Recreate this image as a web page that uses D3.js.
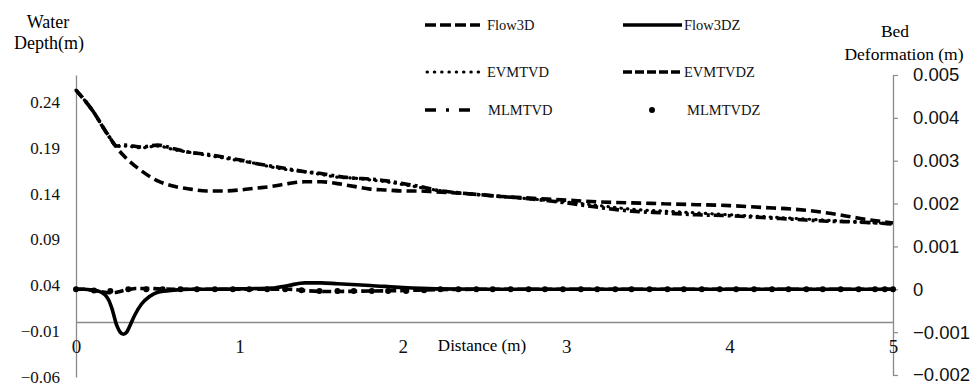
<!DOCTYPE html>
<html><head><meta charset="utf-8">
<script src="https://cdn.jsdelivr.net/npm/d3@7/dist/d3.min.js"></script>
<style>body{margin:0;background:#fff}svg{display:block}</style>
</head><body><svg id="c" width="971" height="388"></svg>
<script>
// ---------- DATA ----------
const depthDistance = [0,0.1,0.2,0.25,0.3,0.4,0.5,0.6,0.7,0.8,0.9,1.0,1.1,1.2,1.3,1.4,1.5,1.6,1.7,1.8,1.9,2.0,2.1,2.2,2.4,2.6,2.8,3.0,3.2,3.4,3.6,3.8,4.0,4.2,4.4,4.6,4.8,5.0];
const flow3D  = [0.253,0.231,0.203,0.190,0.180,0.165,0.154,0.148,0.145,0.143,0.143,0.144,0.146,0.148,0.151,0.153,0.153,0.151,0.148,0.145,0.144,0.143,0.143,0.142,0.140,0.137,0.135,0.133,0.131,0.130,0.129,0.128,0.127,0.125,0.123,0.119,0.113,0.108];
const evmtvd  = [0.253,0.231,0.203,0.192,0.192,0.190,0.192,0.188,0.185,0.182,0.179,0.176,0.173,0.169,0.166,0.164,0.161,0.158,0.157,0.155,0.153,0.150,0.147,0.144,0.140,0.137,0.134,0.131,0.127,0.123,0.121,0.119,0.117,0.115,0.113,0.111,0.109,0.107];
const mlmtvd  = [0.253,0.231,0.203,0.192,0.193,0.191,0.193,0.189,0.185,0.183,0.180,0.177,0.173,0.170,0.167,0.164,0.162,0.159,0.157,0.156,0.154,0.151,0.148,0.144,0.140,0.137,0.134,0.130,0.125,0.121,0.119,0.117,0.116,0.114,0.112,0.110,0.109,0.107];

const bedDistance = [0,0.05,0.1,0.15,0.2,0.22,0.25,0.27,0.29,0.31,0.33,0.36,0.4,0.45,0.5,0.6,0.7,0.8,1.0,1.2,1.3,1.4,1.5,1.6,1.8,2.0,2.2,2.5,3.0,3.5,4.0,4.5,5.0];
const flow3DZ  = [0,0,-0.00002,-0.00006,-0.00025,-0.00045,-0.00085,-0.001,-0.00105,-0.001,-0.00085,-0.0006,-0.00035,-0.00017,-0.00007,-0.00002,0,0,0.00001,0.00003,0.00009,0.00015,0.00015,0.00013,0.00009,0.00004,0.00001,0,0,0,0,0,0];
const evmtvdZ  = [0,0,-0.00002,-0.00005,-0.00008,-0.00008,-0.00007,-0.00005,-0.00003,-0.00001,0,0.00002,0.00002,0.00002,0.00001,0,0,0,0,0,0,-0.00003,-0.00005,-0.00005,-0.00004,-0.00003,-0.00001,0,0,0,0,0,0];

const mlmDistance = [0.00,0.11,0.21,0.32,0.43,0.53,0.64,0.74,0.85,0.96,1.06,1.17,1.28,1.38,1.49,1.60,1.70,1.81,1.91,2.02,2.13,2.23,2.34,2.45,2.55,2.66,2.77,2.87,2.98,3.09,3.19,3.30,3.40,3.51,3.62,3.72,3.83,3.94,4.04,4.15,4.26,4.36,4.47,4.57,4.68,4.79,4.89,4.95,5.00];
const mlmtvdZ = [0,-0.00003,-0.00004,0,0,0,0,0,0,0,0,0,0,-0.00002,-0.00004,-0.00004,-0.00004,-0.00004,-0.00004,-0.00004,-0.00002,0,0,0,0,0,0,0,0,0,0,0,0,0,0,0,0,0,0,0,0,0,0,0,0,0,0,0,0];

const xTicks = [0,1,2,3,4,5];
const leftTicks = [0.24,0.19,0.14,0.09,0.04,-0.01,-0.06];
const rightTicks = [0.005,0.004,0.003,0.002,0.001,0,-0.001,-0.002];
const legendNames = ["Flow3D","Flow3DZ","EVMTVD","EVMTVDZ","MLMTVD","MLMTVDZ"];

// ---------- CHART ----------
const svg = d3.select("#c");
const x = d3.scaleLinear().domain([0,5]).range([76,893]);
const yL = d3.scaleLinear().domain([-0.06,0.2695]).range([377,75]);
const yR = d3.scaleLinear().domain([-0.002,0.005]).range([375,75]);
const serif = "'Liberation Serif','Times New Roman',serif";
const sans = "'Liberation Sans',Arial,sans-serif";
const axisCol = "#8a8a8a";

// left axis (line only, labels)
const gL = svg.append("g").attr("transform","translate(76,0)")
  .call(d3.axisLeft(yL).tickValues(leftTicks).tickSize(0).tickPadding(16).tickFormat(d3.format(".2f")));
gL.select(".domain").attr("stroke",axisCol).attr("stroke-width",1.3);
gL.selectAll("text").attr("font-family",serif).attr("font-size",17).attr("fill","#111");

// right axis
const gR = svg.append("g").attr("transform","translate(893,0)")
  .call(d3.axisRight(yR).tickValues(rightTicks).tickSize(5).tickSizeOuter(0).tickPadding(15)
    .tickFormat(d => d===0 ? "0" : d3.format(".3f")(d)));
gR.select(".domain").attr("stroke",axisCol).attr("stroke-width",1.3);
gR.selectAll(".tick line").attr("stroke",axisCol).attr("stroke-width",1.2);
gR.selectAll("text").attr("font-family",sans).attr("font-size",18.5).attr("fill","#111");

// x axis at left-axis zero
const gX = svg.append("g").attr("transform",`translate(0,${yL(0)})`)
  .call(d3.axisBottom(x).tickValues(xTicks).tickSize(0).tickPadding(18).tickFormat(d3.format("d")));
gX.select(".domain").attr("stroke",axisCol).attr("stroke-width",1.3);
gX.selectAll("text").attr("font-family",serif).attr("font-size",19).attr("fill","#111");

// axis titles
svg.append("text").attr("x",48).attr("y",28).attr("text-anchor","middle").attr("font-family",serif).attr("font-size",18).text("Water");
svg.append("text").attr("x",49).attr("y",49).attr("text-anchor","middle").attr("font-family",serif).attr("font-size",18).text("Depth(m)");
svg.append("text").attr("x",895).attr("y",37).attr("text-anchor","middle").attr("font-family",serif).attr("font-size",17.5).text("Bed");
svg.append("text").attr("x",904).attr("y",60).attr("text-anchor","middle").attr("font-family",serif).attr("font-size",17.5).text("Deformation (m)");
svg.append("text").attr("x",482).attr("y",351).attr("text-anchor","middle").attr("font-family",serif).attr("font-size",17).text("Distance (m)");

// lines
const lineL = (xs) => d3.line().x((d,i)=>x(xs[i])).y(d=>yL(d)).curve(d3.curveMonotoneX);
const lineR = (xs) => d3.line().x((d,i)=>x(xs[i])).y(d=>yR(d)).curve(d3.curveMonotoneX);
const plot = svg.append("g");

plot.append("path").datum(flow3D).attr("d",lineL(depthDistance)).attr("fill","none")
  .attr("stroke","#000").attr("stroke-width",3.6).attr("stroke-dasharray","10,5");
plot.append("path").datum(evmtvd).attr("d",lineL(depthDistance)).attr("fill","none")
  .attr("stroke","#000").attr("stroke-width",3.2).attr("stroke-linecap","round").attr("stroke-dasharray","0.5,6");
plot.append("path").datum(mlmtvd).attr("d",lineL(depthDistance)).attr("fill","none")
  .attr("stroke","#000").attr("stroke-width",3.6).attr("stroke-dasharray","10,4,3,4");

plot.append("path").datum(flow3DZ).attr("d",lineR(bedDistance)).attr("fill","none")
  .attr("stroke","#000").attr("stroke-width",3.6);
plot.append("path").datum(evmtvdZ).attr("d",lineR(bedDistance)).attr("fill","none")
  .attr("stroke","#000").attr("stroke-width",3.6).attr("stroke-dasharray","9,4");
plot.selectAll("circle.mz").data(mlmtvdZ).enter().append("circle").attr("class","mz")
  .attr("cx",(d,i)=>x(mlmDistance[i])).attr("cy",d=>yR(d)).attr("r",3).attr("fill","#000");

// legend
const leg = svg.append("g");
const legendPos = [
  {lx1:425,lx2:480,tx:487,y:25, type:"dash"},
  {lx1:623,lx2:682,tx:684,y:25, type:"solid"},
  {lx1:425,lx2:480,tx:487,y:72, type:"dot"},
  {lx1:623,lx2:682,tx:684,y:72, type:"dash2"},
  {lx1:425,lx2:480,tx:488,y:110, type:"dashdot"},
  {lx1:652,lx2:652,tx:687,y:110, type:"marker"}
];
legendNames.forEach((name,i)=>{
  const p = legendPos[i];
  if (p.type==="marker") {
    leg.append("circle").attr("cx",p.lx1).attr("cy",p.y).attr("r",3).attr("fill","#000");
  } else {
    const ln = leg.append("line").attr("x1",p.lx1).attr("x2",p.lx2).attr("y1",p.y).attr("y2",p.y)
      .attr("stroke","#000").attr("stroke-width",3.4);
    if (p.type==="dash") ln.attr("stroke-dasharray","11,4");
    if (p.type==="dash2") ln.attr("stroke-dasharray","9,3");
    if (p.type==="dot") ln.attr("stroke-width",3).attr("stroke-linecap","round").attr("stroke-dasharray","0.5,6.8").attr("x1",p.lx1+2);
    if (p.type==="dashdot") ln.attr("stroke-dasharray","11,10,3,10");
  }
  leg.append("text").attr("x",p.tx).attr("y",p.y).attr("dy","0.35em")
    .attr("font-family",serif).attr("font-size",14.5).attr("fill","#111").text(name);
});
</script></body></html>
